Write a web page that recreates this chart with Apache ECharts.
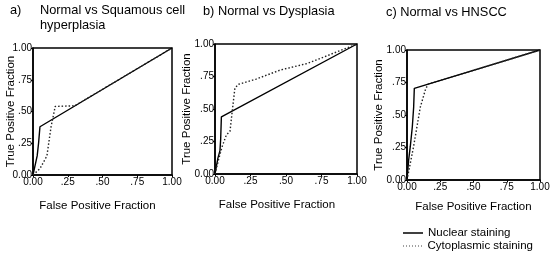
<!DOCTYPE html>
<html><head><meta charset="utf-8">
<script src="https://cdn.jsdelivr.net/npm/echarts@6/dist/echarts.min.js"></script>
<style>html,body{margin:0;padding:0;background:#fff}#c{width:558px;height:256px}</style>
</head><body><div id="c"></div>
<script>
// Tick values / labels
var tickValues = [0, 0.25, 0.5, 0.75, 1];
var tickLabels = ['0.00', '.25', '.50', '.75', '1.00'];
// Panel titles
var panelLetters = ['a)', 'b)', 'c)'];
var panelTitles = ['Normal vs Squamous cell\nhyperplasia', 'Normal vs Dysplasia', 'Normal vs HNSCC'];
var seriesNames = ['Nuclear staining', 'Cytoplasmic staining'];
var xTitle = 'False Positive Fraction';
var yTitle = 'True Positive Fraction';

// ROC points [FPF, TPF]
var nuclearA = [[0,0],[0.01,0.05],[0.03,0.15],[0.04,0.25],[0.05,0.25],[0.05,0.38],[1,1]];
var cytoA = [[0,0],[0.05,0.05],[0.1,0.15],[0.13,0.38],[0.16,0.54],[0.3,0.545],[1,1]];
var nuclearB = [[0,0],[0.02,0.12],[0.035,0.18],[0.04,0.27],[0.045,0.27],[0.045,0.44],[1,1]];
var cytoB = [[0,0],[0.025,0.11],[0.05,0.21],[0.08,0.3],[0.106,0.33],[0.12,0.47],[0.14,0.66],[0.165,0.69],[0.29,0.73],[0.46,0.8],[0.65,0.85],[0.86,0.94],[1,1]];
var nuclearC = [[0,0],[0.012,0.15],[0.025,0.26],[0.04,0.41],[0.05,0.56],[0.055,0.705],[1,1]];
var cytoC = [[0,0],[0.025,0.13],[0.05,0.26],[0.1,0.56],[0.14,0.7],[0.16,0.738],[1,1]];

var nuclear = [nuclearA, nuclearB, nuclearC];
var cyto = [cytoA, cytoB, cytoC];

var grids = [
  {left: 33, top: 48, width: 139, height: 127},
  {left: 215, top: 44, width: 142, height: 130},
  {left: 407, top: 50, width: 133, height: 130}
];
var yGap = [16.5, 22.5, 22.5];
var xGap = [25, 24.5, 21];
var xPadRight = [10, 18, 0];
var titlePos = [{l:40,t:3},{l:203,t:4},{l:386,t:5}];

function fmt(v){ var i = tickValues.indexOf(Math.round(v*100)/100); return i>=0 ? tickLabels[i] : ''; }
var font = 'Liberation Sans, Arial, sans-serif';
var dotIcon = 'path://M0,0h1v1h-1z M3,0h1v1h-1z M6,0h1v1h-1z M9,0h1v1h-1z M12,0h1v1h-1z M15,0h1v1h-1z M18,0h1v1h-1z';
var titleStyle = {fontSize: 12.8, fontWeight: 'normal', color: '#000', fontFamily: font, lineHeight: 15};

var option = {
  animation: false,
  backgroundColor: '#fff',
  textStyle: {fontFamily: font},
  title: [],
  legend: [
    {left: 403, top: 227, itemWidth: 20, itemHeight: 1.5, icon: 'rect', itemGap: 0, padding: 0,
     textStyle: {fontSize: 11.5, color: '#000', fontFamily: font},
     itemStyle: {color: '#000'},
     data: [seriesNames[0]]},
    {left: 403, top: 240, itemWidth: 20, itemHeight: 1, icon: dotIcon, itemGap: 0, padding: 0,
     textStyle: {fontSize: 11.5, color: '#000', fontFamily: font},
     itemStyle: {color: '#444'},
     data: [seriesNames[1]]}
  ],
  grid: grids.map(function(g){ return Object.assign({show: true, borderColor: '#000', borderWidth: 1.5, backgroundColor: 'transparent'}, g); }),
  xAxis: [], yAxis: [], series: []
};

for (var p = 0; p < 3; p++) {
  var tp = titlePos[p];
  option.title.push({text: p === 0 ? panelTitles[0] : panelLetters[p] + ' ' + panelTitles[p], left: tp.l, top: tp.t,
    padding: 0, textStyle: titleStyle});
  if (p === 0) {
    option.title.push({text: panelLetters[0], left: 10, top: 3, padding: 0, textStyle: titleStyle});
  }
  option.xAxis.push({
    gridIndex: p, type: 'value', min: 0, max: 1, interval: 0.25,
    name: xTitle, nameLocation: 'middle', nameGap: xGap[p], nameMoveOverlap: false,
    nameTextStyle: {fontSize: 11.5, color: '#000', padding: [0, xPadRight[p], 0, 0]},
    axisLine: {lineStyle: {color: '#000', width: 1.5}},
    axisTick: {show: true, length: 2, lineStyle: {color: '#000'}},
    axisLabel: {fontSize: 10, color: '#000', margin: 2, formatter: fmt},
    splitLine: {show: false}
  });
  option.yAxis.push({
    gridIndex: p, type: 'value', min: 0, max: 1, interval: 0.25,
    name: yTitle, nameLocation: 'middle', nameGap: yGap[p], nameRotate: 90, nameMoveOverlap: false,
    nameTextStyle: {fontSize: 11.5, color: '#000'},
    axisLine: {lineStyle: {color: '#000', width: 1.5}},
    axisTick: {show: true, length: 2, lineStyle: {color: '#000'}},
    axisLabel: {fontSize: 10, color: '#000', margin: 1, formatter: fmt},
    splitLine: {show: false}
  });
  option.series.push({
    name: seriesNames[0], type: 'line', xAxisIndex: p, yAxisIndex: p, data: nuclear[p],
    symbol: 'none', lineStyle: {color: '#000', width: 1.4, type: 'solid'}, itemStyle: {color: '#000'}
  });
  option.series.push({
    name: seriesNames[1], type: 'line', xAxisIndex: p, yAxisIndex: p, data: cyto[p],
    symbol: 'none', lineStyle: {color: '#222', width: 1.4, type: [1.5, 2]}, itemStyle: {color: '#222'}
  });
}

var chart = echarts.init(document.getElementById('c'), null, {renderer: 'canvas'});
chart.setOption(option);
</script>
</body></html>
